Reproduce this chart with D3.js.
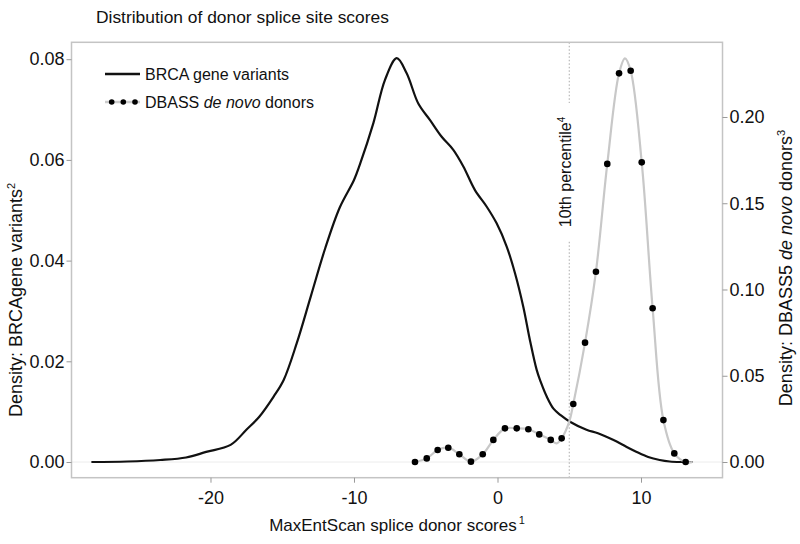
<!DOCTYPE html>
<html><head><meta charset="utf-8">
<script src="https://cdn.jsdelivr.net/npm/d3@7"></script>
<style>body{margin:0;background:#fff;} text{font-family:"Liberation Sans",Arial,sans-serif;fill:#111;}</style>
</head><body><svg id="c" width="800" height="544"></svg>
<script>
// ---- data ----
const xTicks = [-20, -10, 0, 10];
const leftTicks = [0, 0.02, 0.04, 0.06, 0.08];
const rightTicks = [0, 0.05, 0.10, 0.15, 0.20];
const percentile10 = 5.0;

const brcaX = [-28.3,-25.8,-23.5,-21.7,-20.3,-18.6,-17.5,-16.6,-15.6,-14.9,-14,-13,-12,-11,-10,-9.6,-8.65,-7.84,-7.02,-6.33,-5.52,-4.7,-3.89,-3.08,-2.38,-1.57,-0.75,-0.06,0.64,1.22,1.8,2.26,2.73,3.0,3.43,3.9,4.4,5.05,6.2,7.0,8.05,9.0,9.7,10.5,11.3,12.0,12.8,13.6];
const brcaY = [0,0.0001,0.0004,0.0009,0.0020,0.0034,0.0064,0.0090,0.0130,0.0163,0.0235,0.0330,0.0425,0.0505,0.0560,0.0590,0.0673,0.0759,0.0802,0.0772,0.0712,0.0679,0.0646,0.0620,0.0587,0.0540,0.0507,0.0474,0.0428,0.0375,0.0308,0.0242,0.0183,0.0160,0.0130,0.0106,0.0093,0.0080,0.0064,0.0057,0.0044,0.0030,0.0020,0.0010,0.0004,0.0001,0,0];

const dbassX = [-5.75,-4.93,-4.17,-3.43,-2.66,-1.85,-1.03,-0.29,0.52,1.34,2.15,2.91,3.71,4.47,5.28,6.10,6.86,7.65,8.47,9.28,10.05,10.81,11.56,12.32,13.11];
const dbassY = [0,0.0021,0.0070,0.0083,0.0045,0.0002,0.0045,0.0128,0.0195,0.0195,0.0190,0.0160,0.0128,0.0137,0.0336,0.0692,0.1103,0.1728,0.2253,0.2268,0.1737,0.0891,0.0243,0.0050,0];

const dbassCurveX = [-5.75,-4.93,-4.17,-3.43,-2.66,-1.85,-1.03,-0.29,0.52,1.34,2.15,2.91,3.71,4.12,4.47,5.0,5.28,6.10,6.86,7.65,8.47,8.88,9.28,10.05,10.81,11.56,12.32,13.11,13.6];
const dbassCurveY = [0,0.0021,0.0070,0.0083,0.0045,0.0002,0.0045,0.0128,0.0195,0.0195,0.0190,0.0160,0.0128,0.0108,0.0137,0.0234,0.0336,0.0692,0.1103,0.1728,0.2253,0.2340,0.2268,0.1737,0.0891,0.0243,0.0050,0,0];

// ---- layout ----
const L = 71.5, R = 722.5, T = 42.3, B = 477.7;
const svg = d3.select("#c");
const x = d3.scaleLinear().domain([-29.686, 15.679]).range([L, R]);
const yL = d3.scaleLinear().domain([-0.003118, 0.08336]).range([B, T]);
const yR = d3.scaleLinear().domain([-0.0091, 0.2433]).range([B, T]);

// zero reference line
svg.append("line").attr("x1", L).attr("x2", R).attr("y1", yL(0)).attr("y2", yL(0))
  .attr("stroke", "#ececec").attr("stroke-width", 1);

// percentile line
svg.append("line").attr("x1", x(percentile10)).attr("x2", x(percentile10)).attr("y1", T).attr("y2", B)
  .attr("stroke", "#aaa").attr("stroke-width", 1).attr("stroke-dasharray", "1.5,2");
svg.append("rect").attr("x", x(percentile10) - 10).attr("y", 103).attr("width", 18).attr("height", 137).attr("fill", "#fff");
const pt = svg.append("text").attr("transform", `translate(${x(percentile10) + 2},172) rotate(-90)`)
  .attr("text-anchor", "middle").attr("font-size", 16);
pt.append("tspan").text("10th percentile");
pt.append("tspan").attr("font-size", 10).attr("dy", -6).text("4");

// box
svg.append("rect").attr("x", L).attr("y", T).attr("width", R - L).attr("height", B - T)
  .attr("fill", "none").attr("stroke", "#c4c4c4").attr("stroke-width", 1.5);

// BRCA curve
const brca = brcaX.map((v, i) => [v, brcaY[i]]);
svg.append("path").datum(brca)
  .attr("d", d3.line().x(d => x(d[0])).y(d => yL(d[1])).curve(d3.curveCatmullRom.alpha(0.5)))
  .attr("fill", "none").attr("stroke", "#111").attr("stroke-width", 2.2);

// DBASS curve
const dbc = dbassCurveX.map((v, i) => [v, dbassCurveY[i]]);
svg.append("path").datum(dbc)
  .attr("d", d3.line().x(d => x(d[0])).y(d => yR(d[1])).curve(d3.curveCatmullRom.alpha(0.5)))
  .attr("fill", "none").attr("stroke", "#c8c8c8").attr("stroke-width", 2.2);
svg.selectAll("circle.dot").data(dbassX.map((v, i) => [v, dbassY[i]])).enter()
  .append("circle").attr("class", "dot").attr("cx", d => x(d[0])).attr("cy", d => yR(d[1]))
  .attr("r", 3.3).attr("fill", "#000");

// axes
const ax = svg.append("g").attr("transform", `translate(0,${B})`)
  .call(d3.axisBottom(x).tickValues(xTicks).tickFormat(d => String(d)).tickSize(5).tickPadding(5));
const al = svg.append("g").attr("transform", `translate(${L},0)`)
  .call(d3.axisLeft(yL).tickValues(leftTicks).tickFormat(d3.format(".2f")).tickSize(5).tickPadding(2));
const ar = svg.append("g").attr("transform", `translate(${R},0)`)
  .call(d3.axisRight(yR).tickValues(rightTicks).tickFormat(d3.format(".2f")).tickSize(5).tickPadding(2));
[ax, al, ar].forEach(g => {
  g.select(".domain").remove();
  g.selectAll(".tick line").attr("stroke", "#999");
  g.selectAll(".tick text").attr("font-size", 18).attr("fill", "#111")
    .style("font-family", '"Liberation Sans",Arial,sans-serif');
});
ax.selectAll(".tick text").attr("dy", "0.9em");

// title
svg.append("text").attr("x", 96).attr("y", 23).attr("font-size", 17.4).text("Distribution of donor splice site scores");

// x title
const xt = svg.append("text").attr("x", (L + R) / 2).attr("y", 531).attr("text-anchor", "middle").attr("font-size", 17);
xt.append("tspan").text("MaxEntScan splice donor scores");
xt.append("tspan").attr("font-size", 11).attr("dy", -7).attr("dx", 2).text("1");

// left title
const lt = svg.append("text").attr("transform", `translate(22,300) rotate(-90)`)
  .attr("text-anchor", "middle").attr("font-size", 18);
lt.append("tspan").text("Density: BRCAgene variants");
lt.append("tspan").attr("font-size", 11).attr("dy", -7).text("2");

// right title
const rt = svg.append("text").attr("transform", `translate(792,268) rotate(-90)`)
  .attr("text-anchor", "middle").attr("font-size", 18);
rt.append("tspan").text("Density: DBASS5 ");
rt.append("tspan").attr("font-style", "italic").text("de novo");
rt.append("tspan").text(" donors");
rt.append("tspan").attr("font-size", 11).attr("dy", -7).text("3");

// legend
const lg = svg.append("g");
lg.append("line").attr("x1", 105).attr("x2", 140).attr("y1", 74).attr("y2", 74).attr("stroke", "#111").attr("stroke-width", 2.5);
lg.append("text").attr("x", 145).attr("y", 80).attr("font-size", 16).text("BRCA gene variants");
lg.append("line").attr("x1", 105).attr("x2", 140).attr("y1", 102).attr("y2", 102).attr("stroke", "#ccc").attr("stroke-width", 2.5);
[111.7, 123.3, 135].forEach(cx => lg.append("circle").attr("cx", cx).attr("cy", 102).attr("r", 2.8).attr("fill", "#000"));
const l2 = lg.append("text").attr("x", 145).attr("y", 108).attr("font-size", 16);
l2.append("tspan").text("DBASS ");
l2.append("tspan").attr("font-style", "italic").text("de novo");
l2.append("tspan").text(" donors");
</script></body></html>
